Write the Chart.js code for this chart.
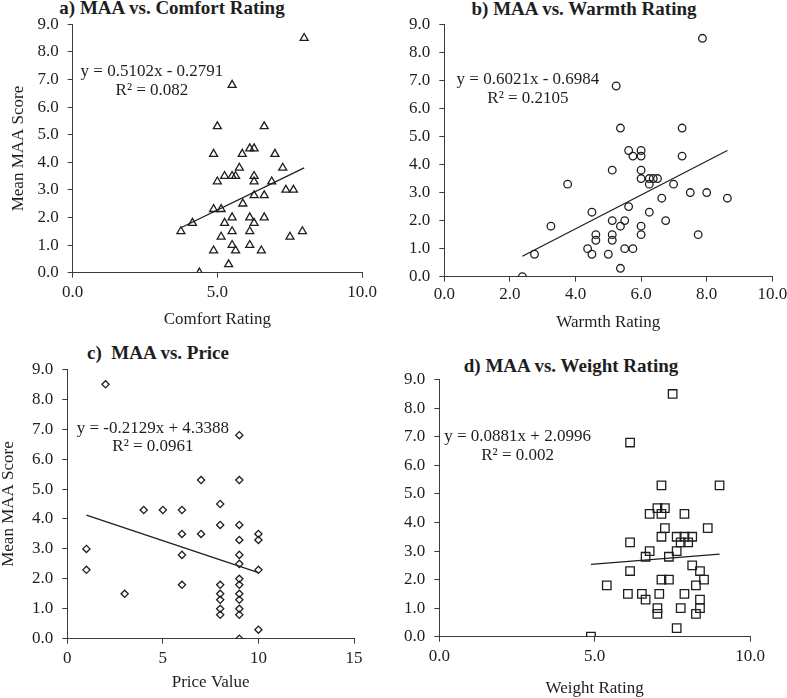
<!DOCTYPE html>
<html>
<head>
<meta charset="utf-8">
<script src="https://cdn.jsdelivr.net/npm/chart.js@4.4.1/dist/chart.umd.min.js"></script>
<style>
  body { margin: 0; background: #fff; overflow: hidden; }
  #wrap { position: relative; width: 787px; height: 698px; overflow: hidden; }
  canvas { position: absolute; }
  .ttl { position: absolute; font: bold 19px "Liberation Serif", "Times New Roman", serif; line-height: 19px;
         color: #1e1e1e; white-space: pre; transform: translateX(-50%); }
</style>
</head>
<body>
<div id="wrap">
  <div class="ttl" style="left:172px;top:-2px">a) MAA vs. Comfort Rating</div>
  <div class="ttl" style="left:584px;top:-1px">b) MAA vs. Warmth Rating</div>
  <div class="ttl" style="left:158px;top:343px">c)  MAA vs. Price</div>
  <div class="ttl" style="left:571px;top:356px">d) MAA vs. Weight Rating</div>
  <canvas id="ca" width="390" height="340" style="left:0;top:0"></canvas>
  <canvas id="cb" width="410" height="340" style="left:390px;top:0"></canvas>
  <canvas id="cc" width="390" height="358" style="left:0;top:340px"></canvas>
  <canvas id="cd" width="410" height="358" style="left:390px;top:340px"></canvas>
</div>
<script>
// a) comfort
const comfortX = [8.0, 5.51, 5.0, 6.62, 6.12, 6.27, 4.87, 5.86, 6.99, 5.76, 7.26, 5.25, 5.51, 5.63, 6.27, 5.0, 6.27, 6.88, 7.37, 7.63, 6.27, 6.62, 5.88, 4.87, 5.13, 5.51, 6.12, 6.62, 4.14, 5.25, 6.27, 3.74, 5.51, 6.12, 7.94, 5.13, 7.51, 5.51, 6.12, 4.87, 5.63, 6.52, 5.39, 4.38];
const comfortY = [8.5, 6.8, 5.3, 5.3, 4.5, 4.5, 4.3, 4.3, 4.3, 3.8, 3.8, 3.5, 3.5, 3.5, 3.5, 3.3, 3.3, 3.3, 3.0, 3.0, 2.8, 2.8, 2.5, 2.3, 2.3, 2.0, 2.0, 2.0, 1.8, 1.8, 1.8, 1.5, 1.5, 1.5, 1.5, 1.3, 1.3, 1.0, 1.0, 0.8, 0.8, 0.8, 0.3, 0.0];
const comfortTrendX = [3.74, 8.0];
const comfortTrendY = [1.63, 3.80];

// b) warmth
const warmthX = [7.87, 5.24, 5.37, 7.25, 5.62, 6.0, 5.75, 6.0, 7.25, 5.12, 6.0, 3.76, 6.0, 6.25, 6.37, 6.5, 6.25, 6.99, 7.5, 8.0, 6.63, 8.63, 5.62, 4.5, 6.25, 5.12, 5.5, 6.75, 3.25, 5.37, 6.0, 4.62, 5.12, 6.0, 7.74, 4.62, 5.12, 4.37, 5.5, 5.75, 2.75, 4.5, 5.0, 5.37, 2.38];
const warmthY = [8.5, 6.8, 5.3, 5.3, 4.5, 4.5, 4.3, 4.3, 4.3, 3.8, 3.8, 3.3, 3.5, 3.5, 3.5, 3.5, 3.3, 3.3, 3.0, 3.0, 2.8, 2.8, 2.5, 2.3, 2.3, 2.0, 2.0, 2.0, 1.8, 1.8, 1.8, 1.5, 1.5, 1.5, 1.5, 1.3, 1.3, 1.0, 1.0, 1.0, 0.8, 0.8, 0.8, 0.3, 0.0];
const warmthTrendX = [2.38, 8.63];
const warmthTrendY = [0.73, 4.50];

// c) price
const priceX = [2, 9, 7, 9, 8, 4, 5, 6, 8, 9, 6, 7, 10, 9, 10, 1, 6, 9, 9, 1, 10, 9, 6, 8, 9, 3, 8, 9, 8, 9, 8, 9, 8, 9, 10, 9];
const priceY = [8.5, 6.8, 5.3, 5.3, 4.5, 4.3, 4.3, 4.3, 3.8, 3.8, 3.5, 3.5, 3.5, 3.3, 3.3, 3.0, 2.8, 2.8, 2.5, 2.3, 2.3, 2.0, 1.8, 1.8, 1.8, 1.5, 1.5, 1.5, 1.3, 1.3, 1.0, 1.0, 0.8, 0.8, 0.3, 0.0];
const priceTrendX = [1, 10];
const priceTrendY = [4.13, 2.21];

// d) weight
const weightX = [7.51, 6.14, 7.15, 9.02, 7.02, 7.26, 6.77, 7.15, 7.89, 7.26, 8.64, 7.15, 7.64, 7.89, 8.14, 6.14, 7.77, 8.01, 6.77, 7.64, 6.64, 7.39, 8.14, 6.14, 8.39, 7.15, 7.39, 8.52, 5.39, 8.26, 6.07, 6.52, 7.08, 7.89, 6.64, 8.39, 7.02, 7.77, 8.39, 7.02, 8.26, 7.64, 4.88];
const weightY = [8.5, 6.8, 5.3, 5.3, 4.5, 4.5, 4.3, 4.3, 4.3, 3.8, 3.8, 3.5, 3.5, 3.5, 3.5, 3.3, 3.3, 3.3, 3.0, 3.0, 2.8, 2.8, 2.5, 2.3, 2.3, 2.0, 2.0, 2.0, 1.8, 1.8, 1.5, 1.5, 1.5, 1.5, 1.3, 1.3, 1.0, 1.0, 1.0, 0.8, 0.8, 0.3, 0.0];
const weightTrendX = [4.88, 9.02];
const weightTrendY = [2.53, 2.89];

const yTicks = [0, 1, 2, 3, 4, 5, 6, 7, 8, 9];

const FONT = '"Liberation Serif", "Times New Roman", serif';
const INK = '#1e1e1e';
const AXIS = '#3c3c3c';
Chart.defaults.font.family = FONT;
Chart.defaults.font.size = 17;
Chart.defaults.color = INK;

const pts = (xs, ys) => xs.map((x, i) => ({ x: x, y: ys[i] }));

// regression equation text, placed in data units
const eqPlugin = {
  id: 'eq',
  afterDatasetsDraw(chart, args, opts) {
    if (!opts.lines) return;
    const { ctx, scales } = chart;
    ctx.save();
    ctx.font = '17px ' + FONT;
    ctx.fillStyle = INK;
    ctx.textAlign = 'center';
    ctx.textBaseline = 'alphabetic';
    opts.lines.forEach((t, i) => {
      ctx.fillText(t, scales.x.getPixelForValue(opts.x), scales.y.getPixelForValue(opts.y[i]));
    });
    ctx.restore();
  }
};

function makeChart(id, c) {
  const ctx = document.getElementById(id).getContext('2d');
  const tickFont = { family: FONT, size: 17 };
  return new Chart(ctx, {
    type: 'scatter',
    data: {
      datasets: [{
        data: pts(c.xs, c.ys),
        pointStyle: c.marker,
        pointRadius: c.radius,
        pointBorderColor: INK,
        pointBackgroundColor: 'transparent',
        pointBorderWidth: 1.3,
        showLine: false
      }, {
        data: pts(c.tx, c.ty),
        showLine: true,
        borderColor: INK,
        borderWidth: 1.3,
        pointRadius: 0
      }]
    },
    options: {
      responsive: false,
      animation: false,
      events: [],
      layout: { padding: c.pad },
      plugins: {
        legend: { display: false },
        tooltip: { enabled: false },
        eq: c.eq
      },
      scales: {
        x: {
          type: 'linear',
          min: c.xMin, max: c.xMax,
          afterFit: s => { s.height = c.xH; },
          ticks: {
            stepSize: c.xStep,
            padding: c.xTickPad,
            color: INK,
            font: tickFont,
            callback: v => c.xDec ? v.toFixed(1) : String(v)
          },
          grid: { drawOnChartArea: false, drawTicks: true, tickLength: 5, color: AXIS },
          border: { display: true, color: AXIS, width: 1 },
          title: {
            display: true, text: c.xTitle, color: INK,
            font: { family: FONT, size: 17, lineHeight: 1 },
            padding: { top: 0, bottom: c.xTitlePad }
          }
        },
        y: {
          type: 'linear',
          min: 0, max: 9,
          afterFit: s => { s.width = c.yW; },
          afterBuildTicks: s => { s.ticks = yTicks.map(v => ({ value: v })); },
          ticks: { padding: 9, color: INK, font: tickFont, callback: v => v.toFixed(1) },
          grid: { drawOnChartArea: false, drawTicks: true, tickLength: 5, color: AXIS },
          border: { display: true, color: AXIS, width: 1 },
          title: {
            display: !!c.yTitle, text: c.yTitle || '', color: INK,
            font: { family: FONT, size: 17, lineHeight: 1 },
            padding: { top: c.yTitlePad || 0, bottom: 0 }
          }
        }
      }
    },
    plugins: [eqPlugin]
  });
}

makeChart('ca', {
  xs: comfortX, ys: comfortY, tx: comfortTrendX, ty: comfortTrendY,
  marker: 'triangle', radius: 4.6,
  xMin: 0, xMax: 10, xStep: 5, xDec: true, xTickPad: 5,
  xTitle: 'Comfort Rating', xTitlePad: 11.5, xH: 67.3,
  yTitle: 'Mean MAA Score', yTitlePad: 10.5, yW: 72.7,
  pad: { top: 24.3, right: 28, bottom: 0, left: 0 },
  eq: { x: 2.74, y: [7.13, 6.45], lines: ['y = 0.5102x - 0.2791', 'R² = 0.082'] }
});

makeChart('cb', {
  xs: warmthX, ys: warmthY, tx: warmthTrendX, ty: warmthTrendY,
  marker: 'circle', radius: 3.8,
  xMin: 0, xMax: 10, xStep: 2, xDec: true, xTickPad: 3,
  xTitle: 'Warmth Rating', xTitlePad: 8.8, xH: 63.3,
  yW: 54.3,
  pad: { top: 24.3, right: 27.7, bottom: 0, left: 0 },
  eq: { x: 2.55, y: [6.86, 6.21], lines: ['y = 0.6021x - 0.6984', 'R² = 0.2105'] }
});

makeChart('cc', {
  xs: priceX, ys: priceY, tx: priceTrendX, ty: priceTrendY,
  marker: 'rectRot', radius: 3.6,
  xMin: 0, xMax: 15, xStep: 5, xDec: false, xTickPad: 5,
  xTitle: 'Price Value', xTitlePad: 6.5, xH: 59.3,
  yTitle: 'Mean MAA Score', yTitlePad: 0, yW: 67.3,
  pad: { top: 29.3, right: 36, bottom: 0, left: 0 },
  eq: { x: 4.48, y: [6.88, 6.27], lines: ['y = -0.2129x + 4.3388', 'R² = 0.0961'] }
});

makeChart('cd', {
  xs: weightX, ys: weightY, tx: weightTrendX, ty: weightTrendY,
  marker: 'rect', radius: 6,
  xMin: 0, xMax: 10, xStep: 5, xDec: true, xTickPad: 5,
  xTitle: 'Weight Rating', xTitlePad: 0.5, xH: 61.3,
  yW: 49.3,
  pad: { top: 39.7, right: 50, bottom: 0, left: 0 },
  eq: { x: 2.52, y: [6.86, 6.19], lines: ['y = 0.0881x + 2.0996', 'R² = 0.002'] }
});
</script>
</body>
</html>
